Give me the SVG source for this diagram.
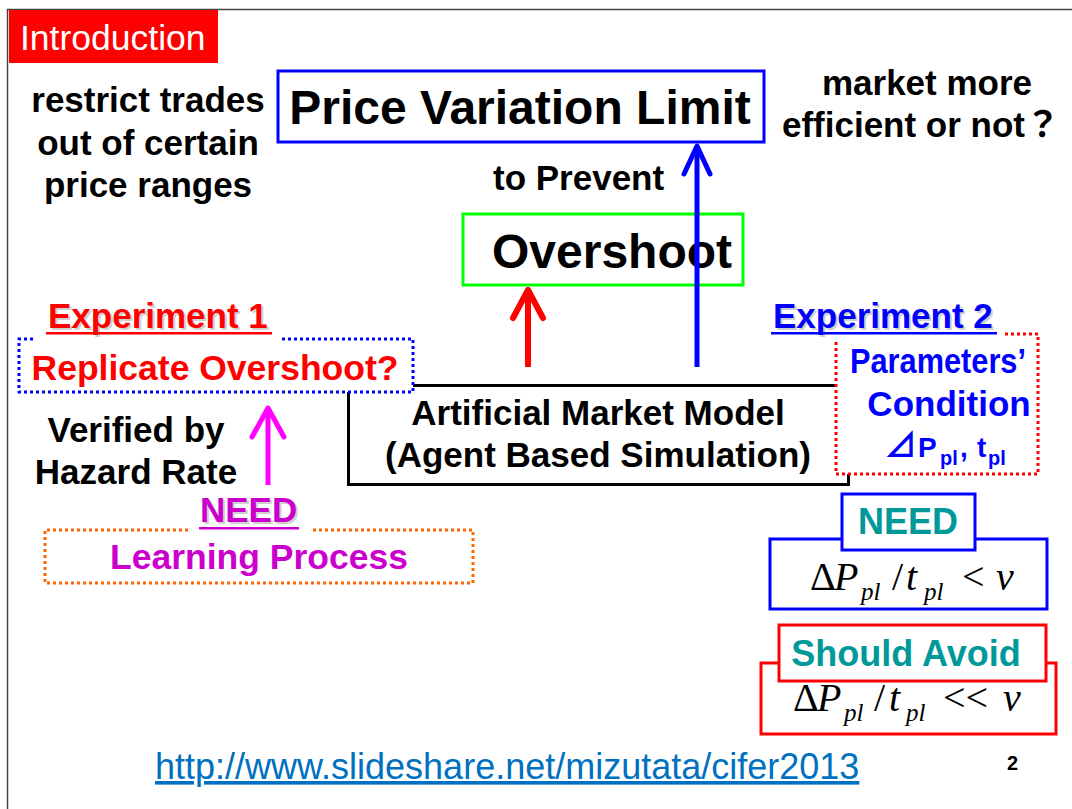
<svg xmlns="http://www.w3.org/2000/svg" width="1072" height="809" viewBox="0 0 1072 809">
  <style>
    .b { font-family: "Liberation Sans", Arial, sans-serif; font-weight: bold; }
    .r { font-family: "Liberation Sans", Arial, sans-serif; }
    .m { font-family: "Liberation Serif", "Times New Roman", serif; font-size: 40px; }
    .i { font-style: italic; }
    .sub { font-style: italic; font-size: 25px; }
    .mid { text-anchor: middle; }
    .box { fill: #fff; stroke-width: 3; }
    .dot { fill: none; stroke-width: 3; stroke-dasharray: 3 3; }
    .arrow { fill: none; stroke-linecap: round; stroke-linejoin: round; }
    .shadow { fill: #d0d0d0; }
  </style>
  <rect width="1072" height="809" fill="#fff"/>
  <!-- slide frame -->
  <path d="M7.5 809 V9.5 H1072" fill="none" stroke="#444" stroke-width="1.5"/>

  <g id="title">
    <rect x="9" y="10" width="209" height="53" fill="#ff0000"/>
    <text class="r" x="20" y="50" font-size="35.5" fill="#fff">Introduction</text>
  </g>

  <g id="note-restrict" class="b mid" font-size="35">
    <text x="148" y="112">restrict trades</text>
    <text x="148" y="155">out of certain</text>
    <text x="148" y="197">price ranges</text>
  </g>

  <g id="price-variation-limit">
    <rect class="box" x="278" y="71" width="486" height="71" stroke="#0000ff"/>
    <text class="b mid" x="520" y="124" font-size="48">Price Variation Limit</text>
  </g>

  <g id="note-efficient" class="b mid" font-size="35">
    <text x="927" y="95">market more</text>
    <text x="921" y="137">efficient or not<tspan font-family="'Noto Sans CJK JP', sans-serif" font-weight="bold">？</tspan></text>
  </g>

  <g id="label-prevent">
    <text class="b" x="493" y="190" font-size="35">to Prevent</text>
  </g>

  <g id="overshoot">
    <rect class="box" x="463" y="214" width="280" height="71" stroke="#00ff00"/>
    <text class="b mid" x="612" y="268" font-size="48">Overshoot</text>
  </g>

  <g id="connectors">
    <!-- model to price variation limit -->
    <line x1="697" y1="367" x2="697" y2="147" stroke="#0000ff" stroke-width="5"/>
    <polyline class="arrow" points="684,174 697,146 710,174" stroke="#0000ff" stroke-width="5"/>
    <!-- model to overshoot -->
    <line x1="528" y1="367" x2="528" y2="290" stroke="#ff0000" stroke-width="6"/>
    <polyline class="arrow" points="513,318 528,290 543,318" stroke="#ff0000" stroke-width="6"/>
    <!-- learning process to replicate overshoot -->
    <line x1="268" y1="485" x2="268" y2="408" stroke="#ff00ff" stroke-width="5"/>
    <polyline class="arrow" points="252,437 268,408 284,437" stroke="#ff00ff" stroke-width="5"/>
  </g>

  <g id="model">
    <path d="M413 385.5 H836 M348.5 392 V484.5 H848.5 V474" fill="none" stroke="#000" stroke-width="3"/>
    <text class="b mid" x="598" y="425" font-size="35">Artificial Market Model</text>
    <text class="b mid" x="598" y="467" font-size="35">(Agent Based Simulation)</text>
  </g>

  <g id="experiment-1">
    <text class="b shadow" x="50" y="330" font-size="35">Experiment 1</text>
    <text class="b" x="48" y="328" font-size="35" fill="#ff0000">Experiment 1</text>
    <rect x="46" y="332" width="226" height="2.5" fill="#ff0000"/>
    <path class="dot" d="M33 339 H19 V392 H413 V339 H282" stroke="#0000ff"/>
    <text class="b mid" x="215" y="380" font-size="35.5" fill="#ff0000">Replicate Overshoot?</text>
  </g>

  <g id="note-hazard" class="b mid" font-size="35">
    <text x="136" y="442">Verified by</text>
    <text x="136" y="484">Hazard Rate</text>
  </g>

  <g id="learning-process">
    <text class="b shadow" x="202" y="524" font-size="35">NEED</text>
    <text class="b" x="200" y="522" font-size="35" fill="#cc00cc">NEED</text>
    <rect x="199" y="527" width="100" height="2.5" fill="#cc00cc"/>
    <path class="dot" d="M188 530 H45 V583 H473 V530 H310" stroke="#ff6600"/>
    <text class="b mid" x="259" y="569" font-size="35.5" fill="#cc00cc">Learning Process</text>
  </g>

  <g id="experiment-2">
    <text class="b shadow" x="775" y="330" font-size="35">Experiment 2</text>
    <text class="b" x="773" y="328" font-size="35" fill="#0000ff">Experiment 2</text>
    <rect x="771" y="332" width="226" height="2.5" fill="#0000ff"/>
    <path class="dot" d="M1005 334 H1038 V474 H836 V342" stroke="#ff0000"/>
    <g class="b" fill="#0000ff">
      <text class="mid" x="938" y="373" font-size="35" textLength="176" lengthAdjust="spacingAndGlyphs">Parameters’</text>
      <text class="mid" x="949" y="416" font-size="35">Condition</text>
      <text y="457" font-size="28"><tspan x="884" font-family="'Noto Sans CJK JP', 'DejaVu Sans', sans-serif" font-size="33">⊿</tspan><tspan x="918">P</tspan><tspan x="940" y="465" font-size="20">pl</tspan><tspan x="960" y="457">,</tspan><tspan x="977">t</tspan><tspan x="988" y="465" font-size="20">pl</tspan></text>
    </g>
  </g>

  <g id="need-condition">
    <rect class="box" x="770" y="539" width="277" height="70" stroke="#0000ff"/>
    <rect class="box" x="842" y="494" width="133" height="56" stroke="#0000ff"/>
    <text class="b mid" x="908" y="534" font-size="36" fill="#009999">NEED</text>
    <text class="m" y="590">
      <tspan x="810">Δ</tspan><tspan class="i" x="834">P</tspan><tspan class="sub" x="861" y="600">pl</tspan><tspan x="892" y="590">/</tspan><tspan class="i" x="906">t</tspan><tspan class="sub" x="924" y="600">pl</tspan><tspan x="962" y="590">&lt;</tspan><tspan class="i" x="996">v</tspan>
    </text>
  </g>

  <g id="avoid-condition">
    <rect class="box" x="761" y="663" width="295" height="71" stroke="#ff0000"/>
    <rect class="box" x="779" y="625" width="267" height="56" stroke="#ff0000"/>
    <text class="b mid" x="906" y="666" font-size="36" fill="#009999">Should Avoid</text>
    <text class="m" y="711">
      <tspan x="793">Δ</tspan><tspan class="i" x="817">P</tspan><tspan class="sub" x="844" y="721">pl</tspan><tspan x="874" y="711">/</tspan><tspan class="i" x="889">t</tspan><tspan class="sub" x="906" y="721">pl</tspan><tspan x="943" y="711">&lt;&lt;</tspan><tspan class="i" x="1003">v</tspan>
    </text>
  </g>

  <g id="footer">
    <text class="r" x="155" y="779" font-size="36" fill="#0070c0" text-decoration="underline">http://www.slideshare.net/mizutata/cifer2013</text>
    <text class="b" x="1007" y="770" font-size="20">2</text>
  </g>
</svg>
